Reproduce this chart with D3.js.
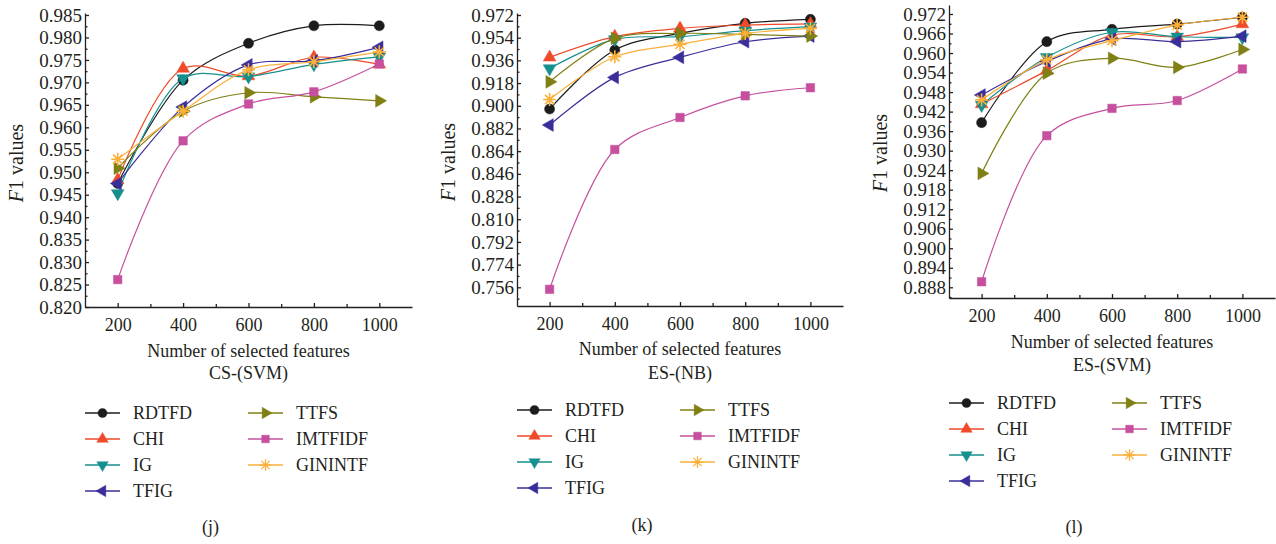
<!DOCTYPE html>
<html>
<head>
<meta charset="utf-8">
<script src="https://cdn.jsdelivr.net/npm/d3@7"></script>
<style>
  body { margin: 0; background: #fff; }
  text { font-family: "Liberation Serif", "DejaVu Serif", serif; fill: #231f20; }
</style>
</head>
<body>
<script>
const features = [200, 400, 600, 800, 1000];
const methods = ["RDTFD", "CHI", "IG", "TFIG", "TTFS", "IMTFIDF", "GININTF"];

// F1 values, one row per method (same order as methods)
const csSvm = [
  [0.9475, 0.9705, 0.9787, 0.9826, 0.9826],
  [0.9483, 0.9731, 0.9714, 0.9756, 0.9740],
  [0.9453, 0.9709, 0.9713, 0.9740, 0.9757],
  [0.9475, 0.9645, 0.9739, 0.9748, 0.9778],
  [0.9509, 0.9636, 0.9677, 0.9668, 0.9659],
  [0.8261, 0.9570, 0.9652, 0.9679, 0.9741],
  [0.9529, 0.9636, 0.9728, 0.9746, 0.9768]
];
const esNb = [
  [0.8974, 0.9442, 0.9574, 0.9654, 0.9686],
  [0.9384, 0.9548, 0.9614, 0.9640, 0.9649],
  [0.9296, 0.9527, 0.9548, 0.9596, 0.9627],
  [0.8847, 0.9225, 0.9384, 0.9508, 0.9553],
  [0.9190, 0.9535, 0.9574, 0.9566, 0.9553],
  [0.7544, 0.8653, 0.8907, 0.9079, 0.9143],
  [0.9050, 0.9389, 0.9487, 0.9574, 0.9614]
];
const esSvm = [
  [0.9386, 0.9635, 0.9673, 0.9689, 0.9710],
  [0.9443, 0.9546, 0.9655, 0.9650, 0.9689],
  [0.9440, 0.9587, 0.9664, 0.9650, 0.9648],
  [0.9471, 0.9574, 0.9643, 0.9635, 0.9652],
  [0.9230, 0.9538, 0.9584, 0.9556, 0.9611],
  [0.8897, 0.9346, 0.9430, 0.9454, 0.9551],
  [0.9456, 0.9579, 0.9638, 0.9686, 0.9710]
];

// y tick labels (the CS panel axis is broken between 0.835 and 0.940)
const ticksJ = [0.820, 0.825, 0.830, 0.835, 0.940, 0.945, 0.950, 0.955, 0.960, 0.965, 0.970, 0.975, 0.980, 0.985];
const ticksK = [0.756, 0.774, 0.792, 0.810, 0.828, 0.846, 0.864, 0.882, 0.900, 0.918, 0.936, 0.954, 0.972];
const ticksL = [0.888, 0.894, 0.900, 0.906, 0.912, 0.918, 0.924, 0.930, 0.936, 0.942, 0.948, 0.954, 0.960, 0.966, 0.972];
const xTicks = [200, 400, 600, 800, 1000];
const xMinor = [300, 500, 700, 900];

const colors = ["#1c1c1c", "#ef4a2a", "#168f8f", "#3a2f9a", "#7f7f14", "#c6509e", "#fbb03b"];

// 8 spoke star for GININTF
const star = {
  draw(ctx, size) {
    const r = Math.sqrt(size) * 0.62;
    const d = r * Math.SQRT1_2;
    ctx.moveTo(0, -r); ctx.lineTo(0, r);
    ctx.moveTo(-r, 0); ctx.lineTo(r, 0);
    ctx.moveTo(-d, -d); ctx.lineTo(d, d);
    ctx.moveTo(-d, d); ctx.lineTo(d, -d);
  }
};
const shapes = [
  { type: d3.symbolCircle, rot: 0, size: 80 },
  { type: d3.symbolTriangle, rot: 0, size: 70 },
  { type: d3.symbolTriangle, rot: 180, size: 70 },
  { type: d3.symbolTriangle, rot: -90, size: 70 },
  { type: d3.symbolTriangle, rot: 90, size: 70 },
  { type: d3.symbolSquare, rot: 0, size: 72 },
  { type: star, rot: 0, size: 110, stroke: true }
];

const W = 1276, H = 544;
const svg = d3.select("body").append("svg")
  .attr("width", W).attr("height", H);

const panels = [
  { data: csSvm, ticks: ticksJ, left: 85, right: 412, top: 13, bottom: 307,
    yDom: [0.820, 0.835, 0.940, 0.985], yRng: [307, 239.6, 217.2, 15],
    name: "CS-(SVM)", letter: "(j)", titleY: 351, subY: 373, legY: 413, letterY: 527, ylabY: 163 },
  { data: esNb, ticks: ticksK, left: 517, right: 843, top: 13, bottom: 306,
    yDom: [0.756, 0.972], yRng: [287.3, 15],
    name: "ES-(NB)", letter: "(k)", titleY: 349, subY: 373, legY: 410, letterY: 525, ylabY: 162 },
  { data: esSvm, ticks: ticksL, left: 949, right: 1275, top: 5, bottom: 298,
    yDom: [0.888, 0.972], yRng: [287.3, 14],
    name: "ES-(SVM)", letter: "(l)", titleY: 342, subY: 365, legY: 403, letterY: 527, ylabY: 153 }
];

function symbolFor(i) {
  return d3.symbol().type(shapes[i].type).size(shapes[i].size)();
}

panels.forEach(p => {
  const g = svg.append("g");

  const x = d3.scaleLinear().domain([100, 1100]).range([p.left, p.right]);
  const y0 = d3.scaleLinear().domain(p.yDom).range(p.yRng);
  const y = d3.scaleLinear()
    .domain([y0.invert(p.bottom), ...p.yDom.slice(1, -1), y0.invert(p.top)])
    .range([p.bottom, ...p.yRng.slice(1, -1), p.top]);

  // minor y ticks halfway between labelled ticks
  const t = p.ticks;
  const yMinor = [];
  for (let i = 0; i < t.length - 1; i++) yMinor.push((t[i] + t[i + 1]) / 2);
  const step = t[1] - t[0];
  const dom = y.domain();
  if (t[0] - step / 2 >= dom[0]) yMinor.unshift(t[0] - step / 2);

  // axes
  const yAxis = g.append("g").attr("transform", `translate(${p.left},0)`)
    .call(d3.axisLeft(y).tickValues(t).tickFormat(d3.format(".3f"))
      .tickSizeInner(-4).tickSizeOuter(0).tickPadding(3));
  g.append("g").attr("transform", `translate(${p.left},0)`)
    .call(d3.axisLeft(y).tickValues(yMinor).tickFormat("").tickSizeInner(-2.5).tickSizeOuter(0))
    .call(a => a.select(".domain").remove());

  g.append("g").attr("transform", `translate(0,${p.bottom})`)
    .call(d3.axisBottom(x).tickValues(xTicks).tickFormat(d3.format("d"))
      .tickSizeInner(-4).tickSizeOuter(0).tickPadding(11));
  g.append("g").attr("transform", `translate(0,${p.bottom})`)
    .call(d3.axisBottom(x).tickValues(xMinor).tickFormat("").tickSizeInner(-3).tickSizeOuter(0))
    .call(a => a.select(".domain").remove());

  g.selectAll(".domain, .tick line").attr("stroke", "#231f20").attr("stroke-width", 1.3);
  g.selectAll(".tick text").attr("font-size", 18).attr("fill", "#231f20")
    .style("font-family", "'Liberation Serif', serif");
  yAxis.selectAll(".tick text").attr("font-size", 19);

  // y label
  const yl = g.append("text")
    .attr("transform", `translate(${p.left - 62},${p.ylabY}) rotate(-90)`)
    .attr("text-anchor", "middle").style("font-size", "20px");
  yl.append("tspan").attr("font-style", "italic").text("F");
  yl.append("tspan").text("1 values");

  // x titles
  const cx = (p.left + p.right) / 2;
  g.append("text").attr("x", cx).attr("y", p.titleY).attr("dy", "0.35em")
    .attr("text-anchor", "middle").attr("font-size", 18).text("Number of selected features");
  g.append("text").attr("x", cx).attr("y", p.subY).attr("dy", "0.35em")
    .attr("text-anchor", "middle").attr("font-size", 18).text(p.name);
  g.append("text").attr("x", cx - 38).attr("y", p.letterY).attr("dy", "0.35em")
    .attr("text-anchor", "middle").attr("font-size", 18).text(p.letter);

  // series
  const line = d3.line()
    .x((d, i) => x(features[i]))
    .y(d => y(d))
    .curve(d3.curveCatmullRom.alpha(0.5));

  p.data.forEach((vals, s) => {
    const sg = g.append("g");
    sg.append("path").datum(vals)
      .attr("d", line).attr("fill", "none")
      .attr("stroke", colors[s]).attr("stroke-width", 1.2);
    sg.selectAll("path.mark").data(vals).join("path")
      .attr("class", "mark")
      .attr("d", symbolFor(s))
      .attr("transform", (d, i) => `translate(${x(features[i])},${y(d)}) rotate(${shapes[s].rot})`)
      .attr("fill", shapes[s].stroke ? "none" : colors[s])
      .attr("stroke", colors[s])
      .attr("stroke-width", shapes[s].stroke ? 1.6 : 0.5);
  });

  // legend
  methods.forEach((m, s) => {
    const col = s < 4 ? 0 : 1;
    const row = s < 4 ? s : s - 4;
    const lx = p.left + col * 163;
    const ly = p.legY + row * 26;
    const lg = g.append("g");
    lg.append("line").attr("x1", lx).attr("x2", lx + 35).attr("y1", ly).attr("y2", ly)
      .attr("stroke", colors[s]).attr("stroke-width", 1.5);
    lg.append("path").attr("d", symbolFor(s))
      .attr("transform", `translate(${lx + 17.5},${ly}) rotate(${shapes[s].rot}) scale(0.9)`)
      .attr("fill", shapes[s].stroke ? "none" : colors[s])
      .attr("stroke", colors[s]).attr("stroke-width", shapes[s].stroke ? 1.4 : 0.5);
    lg.append("text").attr("x", lx + 48).attr("y", ly).attr("dy", "0.35em")
      .attr("font-size", 18).text(m);
  });
});
</script>
</body>
</html>
